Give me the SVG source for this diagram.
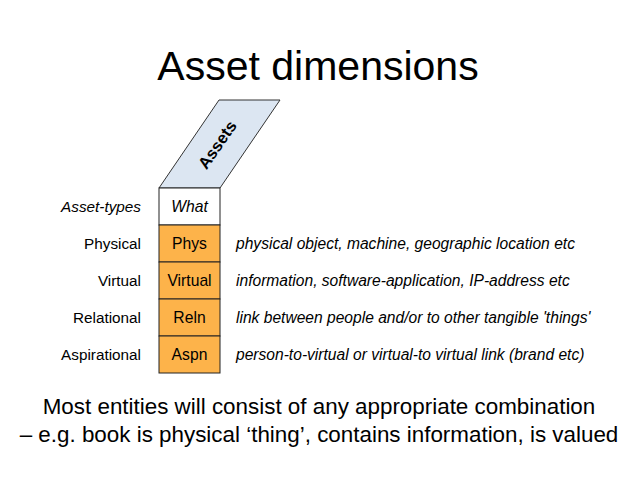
<svg xmlns="http://www.w3.org/2000/svg" width="638" height="479" viewBox="0 0 638 479">
<style>
text{font-family:"Liberation Sans",Arial,sans-serif;fill:#000}
.lbl{font-size:15.3px;text-anchor:end}
.cell{font-size:15.7px;text-anchor:middle}
.desc{font-size:15.6px;font-style:italic}
.box{stroke:#222;stroke-width:1}
.or{fill:#fdb34a}
.bot{font-size:22.4px;text-anchor:middle}
</style>
<rect width="638" height="479" fill="#fff"/>
<text x="318" y="80" font-size="41" text-anchor="middle">Asset dimensions</text>
<g id="assets">
<polygon points="159,188 219,100 280,100 220,188" fill="#dce6f2" stroke="#333" stroke-width="1"/>
<text transform="translate(222,148) rotate(-55)" font-size="16.5" font-weight="bold" text-anchor="middle">Assets</text>
</g>
<g id="what">
<rect class="box" x="159" y="188" width="61" height="37" fill="#fff"/>
<text class="cell" x="189.5" y="212" font-style="italic">What</text>
<text class="lbl" x="141" y="212" font-style="italic" fill="#222">Asset-types</text>
</g>
<g id="phys">
<rect class="box or" x="159" y="225" width="61" height="37"/>
<text class="cell" x="189.5" y="249">Phys</text>
<text class="lbl" x="141" y="249">Physical</text>
<text class="desc" x="236" y="249">physical object, machine, geographic location etc</text>
</g>
<g id="virtual">
<rect class="box or" x="159" y="262" width="61" height="37"/>
<text class="cell" x="189.5" y="286">Virtual</text>
<text class="lbl" x="141" y="286">Virtual</text>
<text class="desc" x="236" y="286">information, software-application, IP-address etc</text>
</g>
<g id="reln">
<rect class="box or" x="159" y="299" width="61" height="37"/>
<text class="cell" x="189.5" y="323">Reln</text>
<text class="lbl" x="141" y="323">Relational</text>
<text class="desc" x="236" y="323">link between people and/or to other tangible 'things'</text>
</g>
<g id="aspn">
<rect class="box or" x="159" y="336" width="61" height="37"/>
<text class="cell" x="189.5" y="360">Aspn</text>
<text class="lbl" x="141" y="360">Aspirational</text>
<text class="desc" x="236" y="360">person-to-virtual or virtual-to virtual link (brand etc)</text>
</g>
<g id="connectors"></g>
<text class="bot" x="319" y="414">Most entities will consist of any appropriate combination</text>
<text class="bot" x="319" y="442">– e.g. book is physical ‘thing’, contains information, is valued</text>
</svg>
